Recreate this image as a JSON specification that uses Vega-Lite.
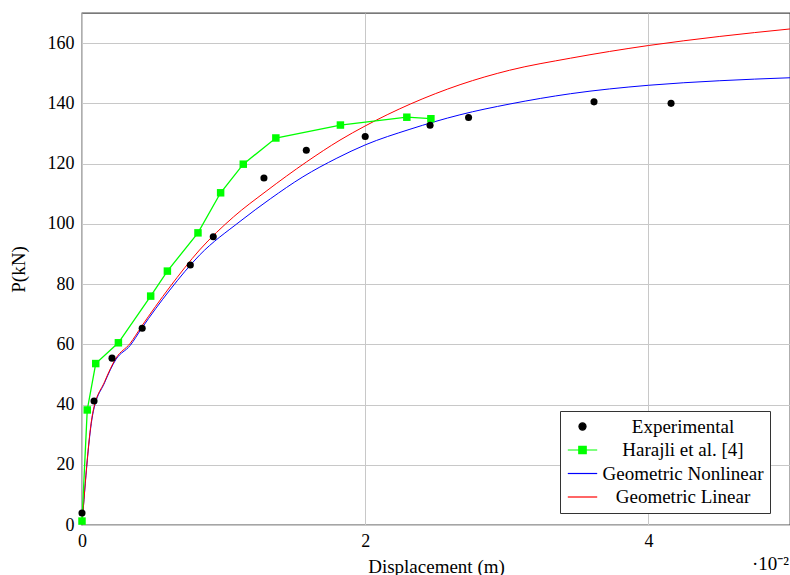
{
  "$schema": "https://vega.github.io/schema/vega-lite/v6.json",
  "width": 708,
  "height": 512,
  "autosize": {"type": "none"},
  "padding": {"left": 82, "top": 13, "right": 0, "bottom": 50},
  "background": "white",
  "config": {
    "font": "Liberation Serif",
    "view": {"stroke": "#4d4d4d", "strokeWidth": 1.3},
    "axis": {
      "labelFont": "Liberation Serif",
      "titleFont": "Liberation Serif",
      "labelFontSize": 18,
      "titleFontSize": 19,
      "titleFontWeight": "normal",
      "labelColor": "#000",
      "titleColor": "#000",
      "gridColor": "#c8c8c8",
      "gridWidth": 1,
      "ticks": false,
      "domain": false,
      "labelFlush": false
    }
  },
  "data": {
    "values": [
      {"series": "Experimental", "x": 0, "y": 4.0},
      {"series": "Experimental", "x": 0.085, "y": 41.2},
      {"series": "Experimental", "x": 0.212, "y": 55.4},
      {"series": "Experimental", "x": 0.425, "y": 65.3},
      {"series": "Experimental", "x": 0.765, "y": 86.3},
      {"series": "Experimental", "x": 0.927, "y": 95.7},
      {"series": "Experimental", "x": 1.285, "y": 115.2},
      {"series": "Experimental", "x": 1.584, "y": 124.4},
      {"series": "Experimental", "x": 2.0, "y": 129.0},
      {"series": "Experimental", "x": 2.458, "y": 132.7},
      {"series": "Experimental", "x": 2.73, "y": 135.3},
      {"series": "Experimental", "x": 3.616, "y": 140.5},
      {"series": "Experimental", "x": 4.16, "y": 140.0},

      {"series": "Harajli et al. [4]", "x": 0, "y": 1.3},
      {"series": "Harajli et al. [4]", "x": 0.037, "y": 38.2},
      {"series": "Harajli et al. [4]", "x": 0.097, "y": 53.6},
      {"series": "Harajli et al. [4]", "x": 0.257, "y": 60.5},
      {"series": "Harajli et al. [4]", "x": 0.485, "y": 76.0},
      {"series": "Harajli et al. [4]", "x": 0.603, "y": 84.3},
      {"series": "Harajli et al. [4]", "x": 0.819, "y": 97.0},
      {"series": "Harajli et al. [4]", "x": 0.979, "y": 110.3},
      {"series": "Harajli et al. [4]", "x": 1.139, "y": 119.8},
      {"series": "Harajli et al. [4]", "x": 1.369, "y": 128.5},
      {"series": "Harajli et al. [4]", "x": 1.825, "y": 132.8},
      {"series": "Harajli et al. [4]", "x": 2.294, "y": 135.4},
      {"series": "Harajli et al. [4]", "x": 2.464, "y": 134.9},

      {"series": "Geometric Nonlinear", "x": 0, "y": 0},
      {"series": "Geometric Nonlinear", "x": 0.075, "y": 36.5},
      {"series": "Geometric Nonlinear", "x": 0.16, "y": 47.3},
      {"series": "Geometric Nonlinear", "x": 0.24, "y": 55.0},
      {"series": "Geometric Nonlinear", "x": 0.34, "y": 59.6},
      {"series": "Geometric Nonlinear", "x": 0.42, "y": 65.2},
      {"series": "Geometric Nonlinear", "x": 0.62, "y": 78.0},
      {"series": "Geometric Nonlinear", "x": 0.83, "y": 89.6},
      {"series": "Geometric Nonlinear", "x": 1.116, "y": 100.8},
      {"series": "Geometric Nonlinear", "x": 1.33, "y": 108.3},
      {"series": "Geometric Nonlinear", "x": 1.56, "y": 115.6},
      {"series": "Geometric Nonlinear", "x": 1.8, "y": 121.8},
      {"series": "Geometric Nonlinear", "x": 2.0, "y": 126.2},
      {"series": "Geometric Nonlinear", "x": 2.316, "y": 131.4},
      {"series": "Geometric Nonlinear", "x": 2.669, "y": 136.2},
      {"series": "Geometric Nonlinear", "x": 3.023, "y": 139.8},
      {"series": "Geometric Nonlinear", "x": 3.45, "y": 143.2},
      {"series": "Geometric Nonlinear", "x": 4.0, "y": 146.0},
      {"series": "Geometric Nonlinear", "x": 4.5, "y": 147.5},
      {"series": "Geometric Nonlinear", "x": 5.0, "y": 148.5},

      {"series": "Geometric Linear", "x": 0, "y": 0},
      {"series": "Geometric Linear", "x": 0.075, "y": 37.0},
      {"series": "Geometric Linear", "x": 0.16, "y": 47.6},
      {"series": "Geometric Linear", "x": 0.24, "y": 55.4},
      {"series": "Geometric Linear", "x": 0.34, "y": 60.3},
      {"series": "Geometric Linear", "x": 0.42, "y": 65.9},
      {"series": "Geometric Linear", "x": 0.62, "y": 79.0},
      {"series": "Geometric Linear", "x": 0.83, "y": 91.3},
      {"series": "Geometric Linear", "x": 1.07, "y": 102.3},
      {"series": "Geometric Linear", "x": 1.3, "y": 110.8},
      {"series": "Geometric Linear", "x": 1.587, "y": 120.6},
      {"series": "Geometric Linear", "x": 1.822, "y": 127.8},
      {"series": "Geometric Linear", "x": 2.0, "y": 132.5},
      {"series": "Geometric Linear", "x": 2.32, "y": 139.8},
      {"series": "Geometric Linear", "x": 2.67, "y": 146.2},
      {"series": "Geometric Linear", "x": 3.02, "y": 151.0},
      {"series": "Geometric Linear", "x": 3.45, "y": 155.0},
      {"series": "Geometric Linear", "x": 4.0, "y": 159.2},
      {"series": "Geometric Linear", "x": 4.5, "y": 162.2},
      {"series": "Geometric Linear", "x": 5.0, "y": 164.7}
    ]
  },
  "layer": [
    {
      "transform": [{"filter": {"field": "series", "equal": "Geometric Nonlinear"}}],
      "mark": {"type": "line", "interpolate": "monotone", "strokeWidth": 1},
      "encoding": {
        "x": {
          "field": "x", "type": "quantitative",
          "scale": {"domain": [0, 5], "nice": false, "zero": false},
          "axis": {"values": [0, 2, 4], "format": "d", "title": "Displacement (m)", "labelPadding": 7, "titlePadding": 7}
        },
        "y": {
          "field": "y", "type": "quantitative",
          "scale": {"domain": [0, 170], "nice": false},
          "axis": {"values": [0, 20, 40, 60, 80, 100, 120, 140, 160], "title": "P(kN)", "labelPadding": 8, "titlePadding": 19}
        },
        "color": {
          "field": "series", "type": "nominal",
          "scale": {
            "domain": ["Experimental", "Harajli et al. [4]", "Geometric Nonlinear", "Geometric Linear"],
            "range": ["#000000", "#00ff00", "#0000ff", "#ff0000"]
          },
          "legend": {
            "title": null,
            "orient": "none",
            "legendX": 478,
            "legendY": 398,
            "fillColor": "white",
            "strokeColor": "#333333",
            "padding": 6,
            "labelFont": "Liberation Serif",
            "labelFontSize": 19,
            "labelColor": "#000",
            "labelAlign": "center",
            "labelOffset": 91,
            "labelLimit": 400,
            "labelExpr": "datum.label + '\u00a0\u00a0\u00a0\u00a0\u00a0'",
            "rowPadding": 3.5,
            "symbolSize": 196,
            "symbolOffset": 7,
            "symbolStrokeWidth": 1.2,
            "encode": {
              "symbols": {
                "update": {
                  "shape": {"signal": "datum.value === 'Experimental' ? 'circle' : datum.value === 'Harajli et al. [4]' ? 'M-2.1,0H2.1M-0.53,-0.53H0.53V0.53H-0.53Z' : 'M-2.1,0H2.1'"},
                  "size": {"signal": "datum.value === 'Experimental' ? 50 : 196"},
                  "fill": {"signal": "datum.value === 'Geometric Nonlinear' || datum.value === 'Geometric Linear' ? 'transparent' : scale('color', datum.value)"},
                  "stroke": {"signal": "scale('color', datum.value)"},
                  "strokeWidth": {"value": 1.2},
                  "opacity": {"value": 1}
                }
              }
            }
          }
        }
      }
    },
    {
      "transform": [{"filter": {"field": "series", "equal": "Geometric Linear"}}],
      "mark": {"type": "line", "interpolate": "monotone", "strokeWidth": 1},
      "encoding": {
        "x": {"field": "x", "type": "quantitative"},
        "y": {"field": "y", "type": "quantitative"},
        "color": {"field": "series", "type": "nominal"}
      }
    },
    {
      "transform": [{"filter": {"field": "series", "equal": "Harajli et al. [4]"}}],
      "mark": {"type": "line", "strokeWidth": 1.3},
      "encoding": {
        "x": {"field": "x", "type": "quantitative"},
        "y": {"field": "y", "type": "quantitative"},
        "color": {"field": "series", "type": "nominal"}
      }
    },
    {
      "transform": [{"filter": {"field": "series", "equal": "Harajli et al. [4]"}}],
      "mark": {"type": "point", "shape": "square", "filled": true, "size": 56, "opacity": 1},
      "encoding": {
        "x": {"field": "x", "type": "quantitative"},
        "y": {"field": "y", "type": "quantitative"},
        "color": {"field": "series", "type": "nominal"}
      }
    },
    {
      "transform": [{"filter": {"field": "series", "equal": "Experimental"}}],
      "mark": {"type": "point", "shape": "circle", "filled": true, "size": 50, "opacity": 1},
      "encoding": {
        "x": {"field": "x", "type": "quantitative"},
        "y": {"field": "y", "type": "quantitative"},
        "color": {"field": "series", "type": "nominal"}
      }
    },
    {
      "data": {"values": [{"label": "·10⁻²"}]},
      "mark": {"type": "text", "align": "right", "baseline": "middle", "dy": 39, "dx": -1, "fontSize": 19, "font": "Liberation Serif", "color": "#000"},
      "encoding": {
        "x": {"datum": 5, "type": "quantitative"},
        "y": {"datum": 0, "type": "quantitative"},
        "text": {"field": "label", "type": "nominal"}
      }
    }
  ]
}
